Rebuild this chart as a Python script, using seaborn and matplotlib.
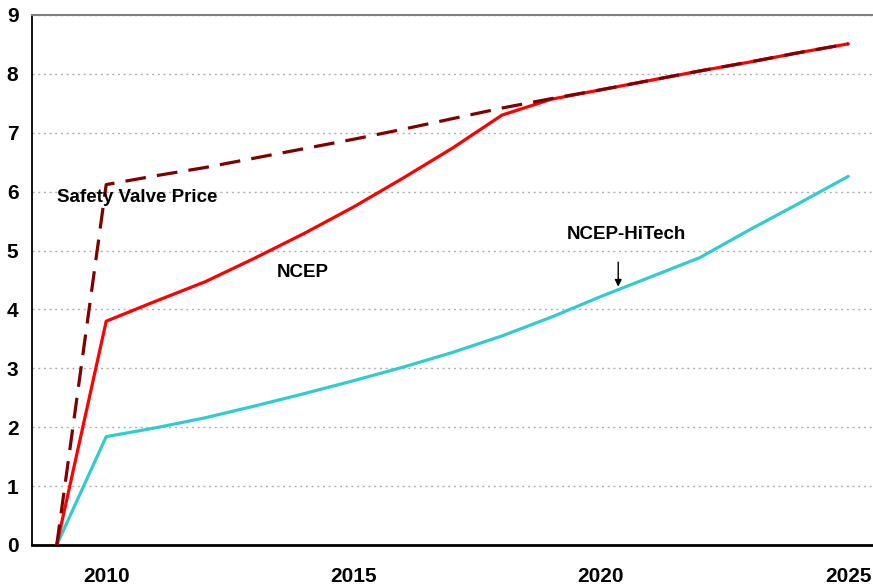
import matplotlib
matplotlib.use("Agg")
import matplotlib.pyplot as plt
import seaborn as sns
import pandas as pd
from matplotlib.ticker import MultipleLocator, FixedLocator

# Data
years = list(range(2009, 2026))
safety_valve = [0, 6.12, 6.27, 6.41, 6.57, 6.73, 6.89, 7.06, 7.24, 7.42, 7.58, 7.73, 7.89, 8.05, 8.20, 8.36, 8.51]
ncep = [0, 3.80, 4.14, 4.47, 4.87, 5.29, 5.74, 6.23, 6.74, 7.30, 7.57, 7.73, 7.89, 8.05, 8.20, 8.36, 8.51]
ncep_hitech = [0, 1.84, 1.99, 2.16, 2.36, 2.57, 2.79, 3.02, 3.27, 3.55, 3.87, 4.22, 4.55, 4.88, 5.35, 5.80, 6.26]
label_years = [2010, 2015, 2020, 2025]

df = pd.DataFrame({"Year": years, "Safety Valve Price": safety_valve,
                   "NCEP": ncep, "NCEP-HiTech": ncep_hitech})

sns.set_style("white")
plt.rcParams['font.family'] = ['Liberation Sans', 'DejaVu Sans']
plt.rcParams['font.weight'] = 'bold'
plt.rcParams['text.color'] = 'black'
plt.rcParams['xtick.color'] = 'black'
plt.rcParams['ytick.color'] = 'black'
plt.rcParams['xtick.labelcolor'] = 'black'
plt.rcParams['ytick.labelcolor'] = 'black'

fig = plt.figure(figsize=(8.73, 5.88), dpi=100)
ax = fig.add_axes([32 / 873, 43 / 588, 1 - 32 / 873, 530 / 588])

# --- lines ---
sns.lineplot(data=df, x="Year", y="NCEP-HiTech", color="#33CCCC", linewidth=2.3, ax=ax, zorder=3)
sns.lineplot(data=df, x="Year", y="NCEP", color="#FF0000", linewidth=2.3, ax=ax, zorder=4)
sns.lineplot(data=df, x="Year", y="Safety Valve Price", color="#800000", linewidth=2.3,
             linestyle=(0, (6.5, 3.5)), ax=ax, zorder=5)

# --- axes ---
ax.set_xlim(years[0] - 0.5, years[-1] + 0.5)
ax.set_ylim(0, 9)
ax.yaxis.set_major_locator(MultipleLocator(1))
ax.xaxis.set_major_locator(FixedLocator(label_years))
ax.xaxis.set_minor_locator(FixedLocator([y - 0.5 for y in years] + [years[-1] + 0.5]))
ax.set_xticklabels([str(y) for y in label_years])
ax.tick_params(axis='x', which='major', length=0, pad=16, labelsize=15)
ax.tick_params(axis='x', which='minor', length=4.5, width=1, color='black', direction='out')
ax.tick_params(axis='y', length=3.8, width=1, color='black', direction='out', pad=6, labelsize=15)
for lab in ax.get_xticklabels() + ax.get_yticklabels():
    lab.set_fontweight('bold')
    lab.set_color('black')

ax.yaxis.grid(True, linestyle=(0, (1.5, 2.6)), color='#b0b0b0', linewidth=1.0)
ax.set_axisbelow(True)
ax.spines['right'].set_visible(False)
ax.spines['top'].set_color('#808080')
ax.spines['top'].set_linewidth(1.5)
ax.spines['left'].set_color('black')
ax.spines['left'].set_linewidth(1.3)
ax.spines['bottom'].set_color('black')
ax.spines['bottom'].set_linewidth(2)
ax.set_xlabel("")
ax.set_ylabel("")

# --- labels ---
ax.text(2009.0, 5.90, "Safety Valve Price", ha='left', va='center', fontsize=13.5,
        fontweight='bold', color='black', zorder=6)
ax.text(2013.97, 4.62, "NCEP", ha='center', va='center', fontsize=13.5, fontweight='bold', color='black')
ax.text(2020.51, 5.27, "NCEP-HiTech", ha='center', va='center', fontsize=13.5, fontweight='bold', color='black')
ax.annotate("", xy=(2020.35, 4.34), xytext=(2020.35, 4.85),
            arrowprops=dict(arrowstyle='-|>', color='black', lw=1, mutation_scale=10))

fig.savefig("out.png", dpi=100)
